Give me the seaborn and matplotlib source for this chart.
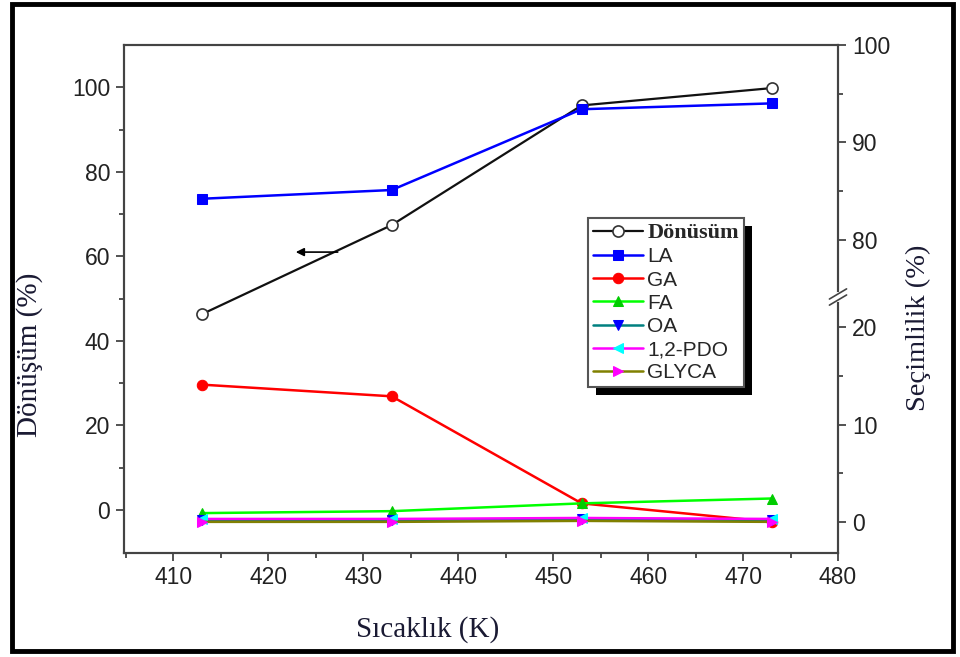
import numpy as np
import matplotlib
matplotlib.use("Agg")
import matplotlib.pyplot as plt
from matplotlib.patches import Rectangle
from matplotlib.transforms import IdentityTransform
import seaborn as sns

# Data
temps = [413, 433, 453, 473]
conversion = [46.3, 67.4, 95.7, 99.8]   # left axis, Dönüşüm (%)
la = [84.2, 85.1, 93.4, 94.0]           # right axis, Seçimlilik (%)
ga = [14.1, 12.9, 1.9, 0.0]
fa = [0.9, 1.1, 1.9, 2.4]
oa = [0.2, 0.2, 0.3, 0.2]
pdo = [0.3, 0.3, 0.4, 0.3]
glyca = [0.0, 0.0, 0.1, 0.0]

x_ticks = [410, 420, 430, 440, 450, 460, 470, 480]
left_ticks = [0, 20, 40, 60, 80, 100]
right_ticks = [0, 10, 20, 80, 90, 100]

# label, values, line colour, marker, marker colour
selectivity = [
    ("LA", la, "#0000ff", "s", "#0000ff"),
    ("GA", ga, "#ff0000", "o", "#ff0000"),
    ("FA", fa, "#00ff00", "^", "#00cc00"),
    ("OA", oa, "#008080", "v", "#0000ff"),
    ("1,2-PDO", pdo, "#ff00ff", "<", "#00ffff"),
    ("GLYCA", glyca, "#808000", ">", "#ff00ff"),
]

# broken right axis: 23..74 is cut out
GAP_LO, GAP_HI = 23.0, 74.0


def fwd(v):
    v = np.asarray(v, dtype=float)
    return np.where(v <= GAP_LO, v, np.where(v >= GAP_HI, v - (GAP_HI - GAP_LO), GAP_LO))


def inv(t):
    t = np.asarray(t, dtype=float)
    return np.where(t <= GAP_LO, t, t + (GAP_HI - GAP_LO))


sns.set_theme(style="ticks")
plt.rcParams["font.family"] = ["Liberation Sans", "DejaVu Sans"]

fig = plt.figure(figsize=(9.6, 6.57), dpi=100)
ax = fig.add_axes([124 / 960, 1 - 553 / 657, 714 / 960, 508 / 657])
ax2 = ax.twinx()

sns.lineplot(x=temps, y=conversion, ax=ax, color="#111111", lw=1.6, marker="o",
             markersize=8, markerfacecolor="white", markeredgecolor="#333333",
             markeredgewidth=1.2, label="Dönüsüm", legend=False)

for name, vals, lc, mk, mc in selectivity:
    sns.lineplot(x=temps, y=vals, ax=ax2, color=lc, lw=1.8, marker=mk,
                 markersize=7.5, markerfacecolor=mc, markeredgecolor=mc,
                 label=name, legend=False)

ax.set_xlim(404.8, 480)
ax.set_ylim(-10.2, 110)
ax.set_xticks(x_ticks)
ax.set_xticks(np.arange(405, 481, 5), minor=True)
ax.set_yticks(left_ticks)
ax.set_yticks(np.arange(10, 100, 20), minor=True)

ax2.set_yscale("function", functions=(fwd, inv))
ax2.set_ylim(-3.2, 100)
ax2.set_yticks(right_ticks, labels=[str(t) for t in right_ticks])
ax2.set_yticks([5, 15, 85, 95], minor=True)

for a in (ax, ax2):
    for sp in a.spines.values():
        sp.set_color("#444444")
        sp.set_linewidth(1.5)
    a.tick_params(which="major", length=6, width=1.3, color="#444444",
                  labelsize=16.5, labelcolor="#222222", direction="out")
    a.tick_params(which="minor", length=3.5, width=1.3, color="#444444",
                  direction="out")
    a.set_xlabel("")
    a.set_ylabel("")
ax.tick_params(axis="y", pad=4)
ax2.tick_params(axis="y", pad=4)

# axis break marks on the right spine
yb = (553 - 297) / 508
ax2.plot([1, 1], [yb - 0.006, yb + 0.006], transform=ax2.transAxes,
         color="white", lw=3, clip_on=False, zorder=10)
for dy in (-0.006, 0.006):
    ax2.plot([1 - 0.012, 1 + 0.012], [yb + dy - 0.01, yb + dy + 0.01],
             transform=ax2.transAxes, color="#444444", lw=1.2,
             clip_on=False, zorder=11)

# arrow pointing to the left axis
ax.annotate("", xy=(422.6, 61), xytext=(427.6, 61),
            arrowprops=dict(arrowstyle="-|>", color="black", lw=1.2,
                            mutation_scale=12))

# axis titles
serif = ["Liberation Serif", "DejaVu Serif"]
fig.text(428 / 960, 1 - 630 / 657, "Sıcaklık (K)", family=serif, fontsize=21,
         color="#1a1a33", ha="center", va="center")
fig.text(30 / 960, 1 - 355 / 657, "Dönüşüm (%)", family=serif, fontsize=21,
         color="#1a1a33", ha="center", va="center", rotation=90)
fig.text(918 / 960, 1 - 328 / 657, "Seçimlilik (%)", family=serif, fontsize=20.5,
         color="#1a1a33", ha="center", va="center", rotation=90)

# legend with a hard black shadow
h1, l1 = ax.get_legend_handles_labels()
h2, l2 = ax2.get_legend_handles_labels()
leg = ax2.legend(h1 + h2, l1 + l2, loc="upper left",
                 bbox_to_anchor=((588 - 124) / 714, (553 - 218) / 508),
                 borderaxespad=0, frameon=True, fancybox=False, fontsize=15,
                 handlelength=2.4, handletextpad=0.2, labelspacing=0.2,
                 borderpad=0.25)
leg.get_frame().set_edgecolor("#555555")
leg.get_frame().set_linewidth(1.5)
leg.get_frame().set_alpha(1)
leg.set_zorder(20)
t0 = leg.get_texts()[0]
t0.set_fontfamily(serif)
t0.set_fontweight("bold")
t0.set_fontsize(16)

fig.canvas.draw()
bb = leg.get_window_extent()
shadow = Rectangle((bb.x0 + 8, bb.y0 - 8), bb.width, bb.height,
                   transform=IdentityTransform(), facecolor="black",
                   edgecolor="none", zorder=19, clip_on=False)
ax2.add_artist(shadow)

# outer frame around the whole figure
fig.patches.append(Rectangle((12 / 960, 6 / 657), 941 / 960, 647 / 657,
                             transform=fig.transFigure, fill=False,
                             edgecolor="black", linewidth=3.5))

fig.savefig("out.png", dpi=100)
